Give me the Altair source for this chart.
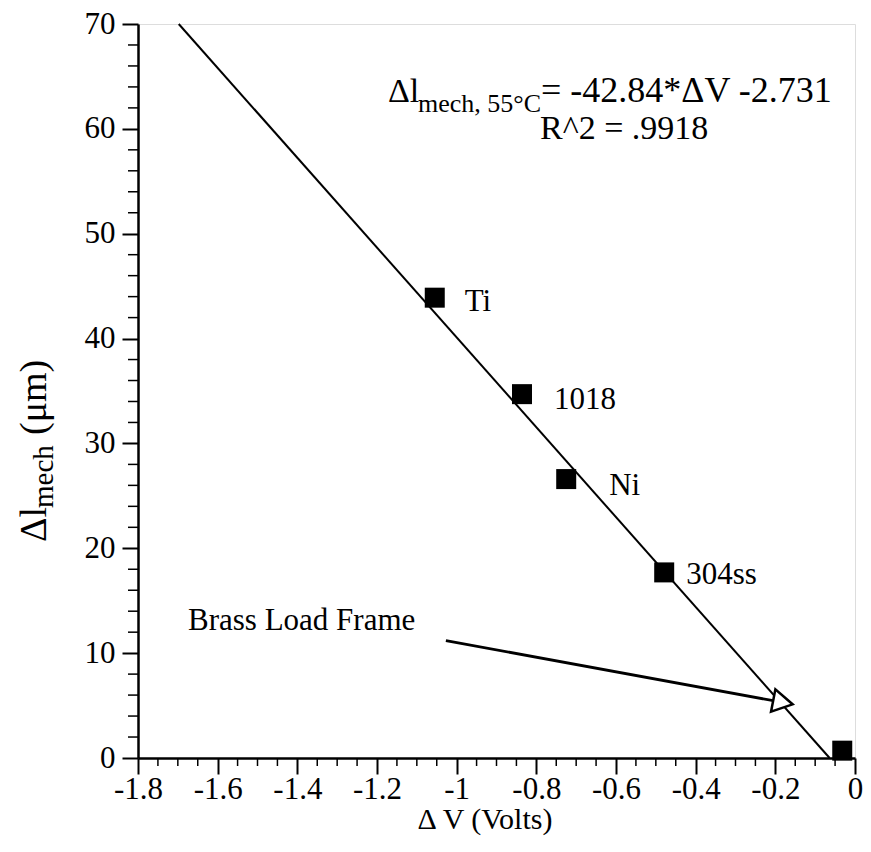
import altair as alt
import pandas as pd

# ---- data ----
materials = ["Ti", "1018", "Ni", "304ss", "Brass"]
delta_v = [-1.055, -0.836, -0.725, -0.479, -0.032]
delta_l = [43.9, 34.7, 26.6, 17.7, 0.7]

fit_slope = -42.84
fit_intercept = -2.731

x_ticks = [-1.8, -1.6, -1.4, -1.2, -1.0, -0.8, -0.6, -0.4, -0.2, 0.0]
y_ticks = [0, 10, 20, 30, 40, 50, 60, 70]
x_minor = [round(-1.8 + 0.05 * i, 2) for i in range(37) if i % 4 != 0]
y_minor = [v for v in range(0, 71, 2) if v % 10 != 0]

arrow_x = [-1.027, -0.181]
arrow_y = [11.2, 5.3]

X_DOMAIN = [-1.8, 0.0]
Y_DOMAIN = [0, 70]

W, H = 717, 734
FONT = "Liberation Serif"
FS = 31

pts = pd.DataFrame({"material": materials, "dv": delta_v, "dl": delta_l})

# fit line clipped to the plot domain
x_top = (Y_DOMAIN[1] - fit_intercept) / fit_slope
x_zero = (Y_DOMAIN[0] - fit_intercept) / fit_slope
fit = pd.DataFrame({"dv": [x_top, x_zero], "dl": [fit_slope * x_top + fit_intercept,
                                                   fit_slope * x_zero + fit_intercept]})

xs = alt.Scale(domain=X_DOMAIN, nice=False, zero=False)
ys = alt.Scale(domain=Y_DOMAIN, nice=False, zero=False)

xaxis = alt.Axis(values=x_ticks, labelExpr="datum.value + ''", tickSize=16, tickWidth=2,
                 tickColor="black", domainColor="black", domainWidth=2.5,
                 labelFont=FONT, labelFontSize=FS, labelColor="black", labelPadding=0,
                 labelFlush=False, labelOverlap=False, grid=False, title=None)
yaxis = alt.Axis(values=y_ticks, tickSize=16, tickWidth=2, tickColor="black",
                 domainColor="black", domainWidth=2.5, labelFont=FONT, labelFontSize=FS,
                 labelColor="black", labelPadding=7, labelFlush=False, labelOverlap=False,
                 grid=False, title=None)

base_x = alt.X("dv:Q", scale=xs, axis=xaxis)
base_y = alt.Y("dl:Q", scale=ys, axis=yaxis)

line = alt.Chart(fit).mark_line(color="black", strokeWidth=2).encode(x=base_x, y=base_y)
points = alt.Chart(pts).mark_point(shape="square", filled=True, size=400, color="black",
                                   opacity=1).encode(x="dv:Q", y="dl:Q")

label_offsets = {"Ti": (30, 13), "1018": (32, 15), "Ni": (43, 16), "304ss": (22, 12)}
labels = []
for name, (dx, dy) in label_offsets.items():
    labels.append(
        alt.Chart(pts).transform_filter(alt.datum.material == name)
        .mark_text(align="left", baseline="alphabetic", dx=dx, dy=dy, font=FONT,
                   fontSize=FS, color="black")
        .encode(x="dv:Q", y="dl:Q", text="material:N")
    )

arrow = pd.DataFrame({"dv": arrow_x, "dl": arrow_y})
arrow_line = alt.Chart(arrow).mark_line(color="black", strokeWidth=2.8).encode(x="dv:Q", y="dl:Q")
arrow_head = alt.Chart(arrow.tail(1)).mark_point(shape="triangle-right", angle=11, size=520,
                                                 filled=True, fill="white", stroke="black",
                                                 strokeWidth=2.5, opacity=1).encode(x="dv:Q", y="dl:Q")

# minor ticks (outside the axes)
xm = alt.Chart(pd.DataFrame({"v": x_minor})).mark_rule(color="black", strokeWidth=1.5).encode(
    x=alt.X("v:Q", scale=xs), y=alt.value(H), y2=alt.value(H + 8))
ym = alt.Chart(pd.DataFrame({"v": y_minor})).mark_rule(color="black", strokeWidth=1.5).encode(
    y=alt.Y("v:Q", scale=ys), x=alt.value(0), x2=alt.value(-10))


def txt(s, x, y, size=FS, angle=0, align="left"):
    return alt.Chart(pd.DataFrame({"t": [s]})).mark_text(
        align=align, baseline="alphabetic", font=FONT, fontSize=size, color="black",
        angle=angle).encode(x=alt.value(x), y=alt.value(y), text="t:N")


annots = [
    # equation
    txt("Δl", 250, 78, size=34),
    txt("mech, 55°C", 280, 88, size=26),
    txt("= -42.84*ΔV -2.731", 403, 78, size=36),
    txt("R^2 = .9918", 402, 115, size=34),
    # brass annotation
    txt("Brass Load Frame", 50, 606),
    # x axis title
    txt("Δ V (Volts)", 347, 805, size=30, align="center"),
    # y axis title (rotated, with subscript)
    txt("Δl", -92, 518, size=38, angle=270),
    txt("mech", -85, 484, size=29, angle=270),
    txt("(μm)", -92, 411, size=38, angle=270),
]

chart = alt.layer(line, xm, ym, arrow_line, arrow_head, points, *labels, *annots).properties(
    width=W, height=H, autosize="none",
    padding={"left": 130, "top": 16, "right": 8, "bottom": 81},
).configure_view(stroke="black", strokeWidth=2.5).configure(background="white")

chart.save("out.html", embed_options={"renderer": "svg", "actions": False})
